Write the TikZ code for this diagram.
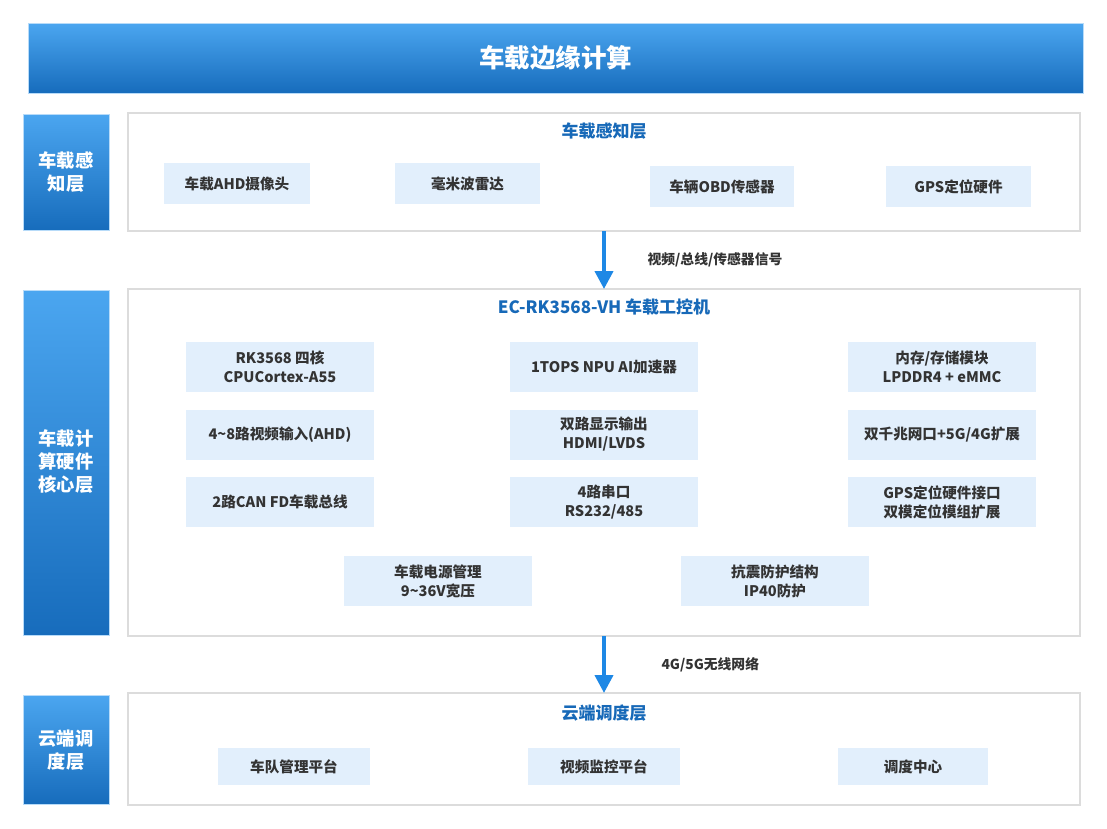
\documentclass[tikz,border=0pt]{standalone}
\usepackage{fontspec}
\setmainfont{Noto Sans CJK SC}
\usetikzlibrary{arrows.meta}
\definecolor{gtop}{HTML}{4BA6F0}
\definecolor{gbot}{HTML}{176CBC}
\definecolor{itemfill}{HTML}{E2EFFC}
\definecolor{txt}{HTML}{333333}
\definecolor{ttl}{HTML}{1769B8}
\definecolor{frame}{HTML}{DCDCDC}
\definecolor{arr}{HTML}{1E88E5}
\tikzset{
  grad/.style={top color=gtop, bottom color=gbot, draw=gtop!40, line width=0.6pt},
  panel/.style={draw=frame, line width=1.2pt, fill=white},
  item/.style={fill=itemfill, draw=none, inner sep=0pt, text=txt, font=\bfseries\fontsize{14.6}{19}\selectfont, align=center},
  side/.style={text=white, font=\bfseries\fontsize{18.3}{23}\selectfont, align=center},
  ptitle/.style={text=ttl, font=\bfseries\fontsize{17}{20}\selectfont},
  alabel/.style={text=txt, font=\bfseries\fontsize{13.8}{16}\selectfont, anchor=west},
  flow/.style={arr, line width=4pt, -{Triangle[width=18pt,length=18pt]}}
}
\begin{document}
\begin{tikzpicture}[x=1pt,y=-1pt]
\useasboundingbox (0,0) rectangle (1107,828);
% title
\shade[grad] (28,23) rectangle (1083,93);
\node[text=white, font=\bfseries\fontsize{25.5}{30}\selectfont] (title) at (555.5,58) {车载边缘计算};
% side labels
\shade[grad] (23,114) rectangle (109,230);
\node[side] (s1) at (66,172) {车载感\\知层};
\shade[grad] (23,290) rectangle (109,635);
\node[side] (s2) at (66,462) {车载计\\算硬件\\核心层};
\shade[grad] (23,695) rectangle (109,804);
\node[side] (s3) at (66,750) {云端调\\度层};
% panels
\draw[panel] (128,113) rectangle (1080,231);
\draw[panel] (128,289) rectangle (1080,636);
\draw[panel] (128,693) rectangle (1080,805);
\coordinate (p1b) at (604,231);
\coordinate (p2t) at (604,289);
\coordinate (p2b) at (604,636);
\coordinate (p3t) at (604,693);
% layer 1
\node[ptitle] (t1) at (604,131) {车载感知层};
\node[item, minimum width=146pt, minimum height=41pt] (a1) at (237,183.5) {车载AHD摄像头};
\node[item, minimum width=145pt, minimum height=41pt] (a2) at (467.5,183.5) {毫米波雷达};
\node[item, minimum width=144pt, minimum height=41pt] (a3) at (722,186.5) {车辆OBD传感器};
\node[item, minimum width=145pt, minimum height=41pt] (a4) at (958.5,186.5) {GPS定位硬件};
% arrow 1
\draw[flow] (p1b) -- (p2t);
\node[alabel] (l1) at (644,260) {视频/总线/传感器信号};
% layer 2
\node[ptitle] (t2) at (604,307) {EC-RK3568-VH 车载工控机};
\tikzset{big/.style={item, minimum width=188pt, minimum height=50pt}}
\node[big] (b11) at (280,367) {RK3568 四核\\CPUCortex-A55};
\node[big] (b12) at (604,367) {1TOPS NPU AI加速器};
\node[big] (b13) at (942,367) {内存/存储模块\\LPDDR4 + eMMC};
\node[big] (b21) at (280,434.5) {4\textasciitilde 8路视频输入(AHD)};
\node[big] (b22) at (604,434.5) {双路显示输出\\HDMI/LVDS};
\node[big] (b23) at (942,434.5) {双千兆网口+5G/4G扩展};
\node[big] (b31) at (280,502) {2路CAN FD车载总线};
\node[big] (b32) at (604,502) {4路串口\\RS232/485};
\node[big] (b33) at (942,502) {GPS定位硬件接口\\双模定位模组扩展};
\node[big] (b41) at (438,581) {车载电源管理\\9\textasciitilde 36V宽压};
\node[big] (b42) at (775,581) {抗震防护结构\\IP40防护};
% arrow 2
\draw[flow] (p2b) -- (p3t);
\node[alabel] (l2) at (658,665) {4G/5G无线网络};
% layer 3
\node[ptitle] (t3) at (604,713) {云端调度层};
\node[item, minimum width=152pt, minimum height=37pt] (c1) at (294,766.5) {车队管理平台};
\node[item, minimum width=152pt, minimum height=37pt] (c2) at (604,766.5) {视频监控平台};
\node[item, minimum width=150pt, minimum height=37pt] (c3) at (913,766.5) {调度中心};
\end{tikzpicture}
\end{document}
